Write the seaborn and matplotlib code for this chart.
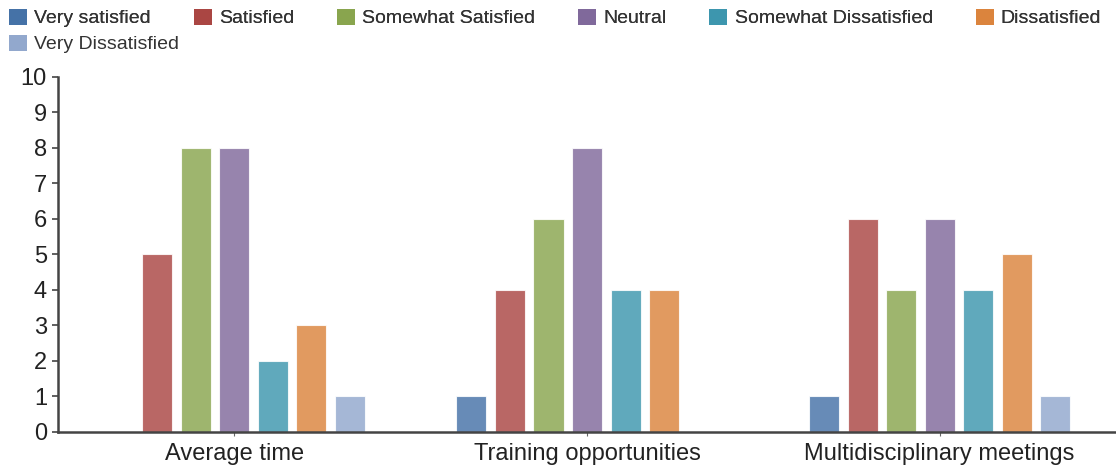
import matplotlib
matplotlib.use("Agg")
import matplotlib.pyplot as plt
from matplotlib.patches import Patch
import seaborn as sns
import pandas as pd

categories = ["Average time", "Training opportunities", "Multidisciplinary meetings"]
levels = ["Very satisfied", "Satisfied", "Somewhat Satisfied", "Neutral",
          "Somewhat Dissatisfied", "Dissatisfied", "Very Dissatisfied"]
colors = ["#4572A7", "#AA4643", "#89A54E", "#80699B", "#3D96AE", "#DB843D", "#92A8CD"]

very_satisfied = [0, 1, 1]
satisfied = [5, 4, 6]
somewhat_satisfied = [8, 6, 4]
neutral = [8, 8, 6]
somewhat_dissatisfied = [2, 4, 4]
dissatisfied = [3, 4, 5]
very_dissatisfied = [1, 0, 1]

series = [very_satisfied, satisfied, somewhat_satisfied, neutral,
          somewhat_dissatisfied, dissatisfied, very_dissatisfied]

rows = []
for level, vals in zip(levels, series):
    for cat, v in zip(categories, vals):
        rows.append({"category": cat, "level": level, "count": v})
df = pd.DataFrame(rows)

sns.set_theme(style="white")
plt.rcParams["font.family"] = ["Liberation Sans", "DejaVu Sans"]

fig = plt.figure(figsize=(11.16, 4.68), dpi=100)
ax = fig.add_axes([0.052, 0.077, 0.948, 0.7585])

sns.barplot(data=df, x="category", y="count", hue="level",
            order=categories, hue_order=levels, palette=colors,
            saturation=1, width=0.765, gap=0.22, alpha=0.82,
            edgecolor="white", linewidth=0.8, legend=False, ax=ax)

ax.set_ylim(0, 10)
ax.set_yticks(range(0, 11))
ax.set_xlabel("")
ax.set_ylabel("")
for side in ["top", "right"]:
    ax.spines[side].set_visible(False)
for side in ["left", "bottom"]:
    ax.spines[side].set_color("#444444")
    ax.spines[side].set_linewidth(1.8)
ax.tick_params(axis="y", which="major", left=True, length=4, width=1.2,
               color="#444444", labelsize=17, labelcolor="#222222", pad=4)
ax.tick_params(axis="x", which="major", bottom=True, length=3, width=0.8,
               color="#666666", labelsize=17, labelcolor="#222222", pad=5)

handles = [Patch(facecolor=c, edgecolor="none") for c in colors]
common = dict(frameon=False, fontsize=14, handlelength=0.93, handleheight=0.93,
              handletextpad=0.37, borderpad=0, borderaxespad=0,
              labelcolor="#333333")
leg1 = fig.legend(handles[:6], levels[:6], loc="center left",
                  bbox_to_anchor=(0.008, 0.9615), ncol=6,
                  columnspacing=2.2, **common)
fig.add_artist(leg1)
fig.legend(handles[6:], levels[6:], loc="center left",
           bbox_to_anchor=(0.008, 0.906), ncol=1, **common)

fig.savefig("out.png", dpi=100)
